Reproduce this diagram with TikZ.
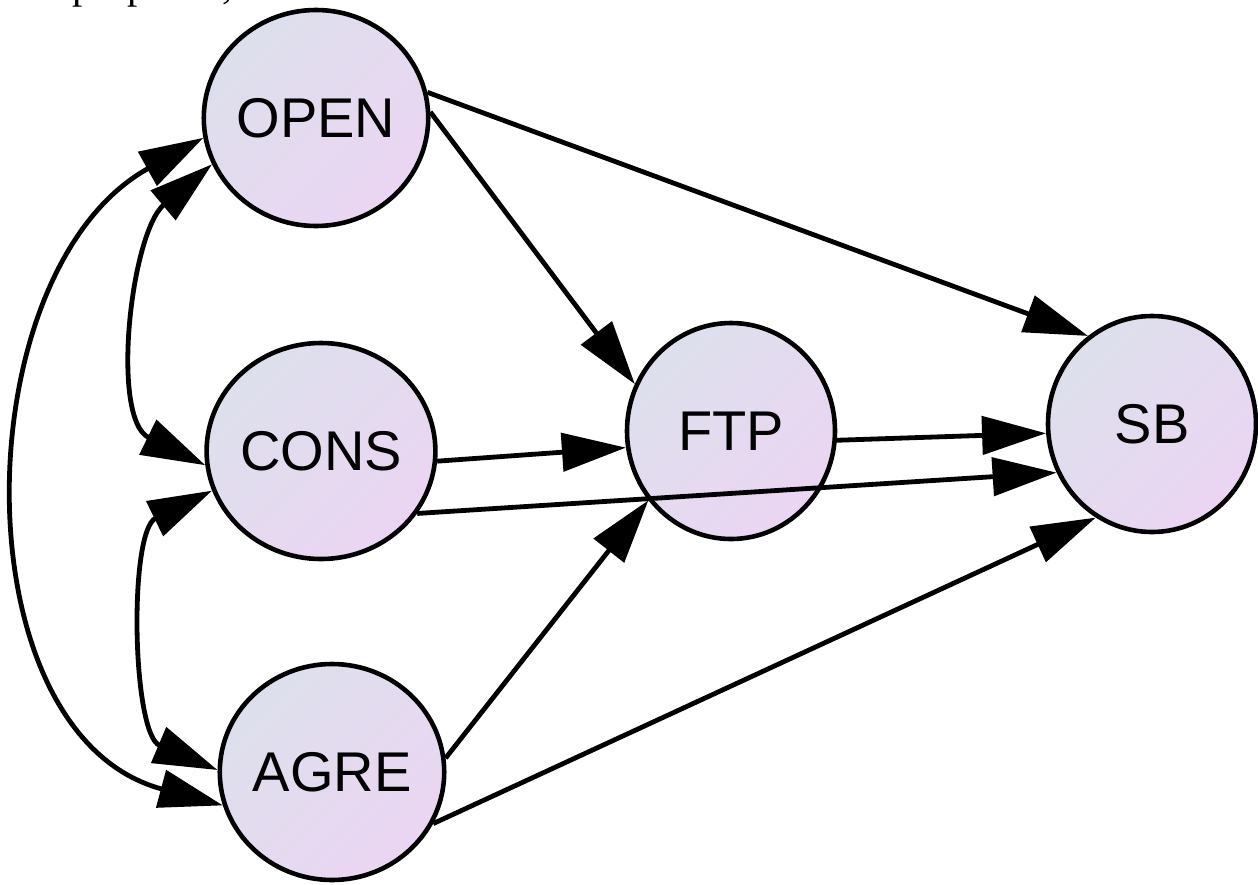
\documentclass[tikz,border=0pt]{standalone}
\usepackage{fontspec}
\setmainfont{Liberation Sans}
\newfontfamily\capfont{Liberation Serif}
\usetikzlibrary{arrows.meta,shapes.geometric}
\definecolor{nodetop}{RGB}{221,224,236}
\definecolor{nodebot}{RGB}{235,213,243}
\begin{document}
\begin{tikzpicture}[x=0.5pt,y=-0.5pt,
  var/.style={ellipse, draw=black, line width=2.3pt,
    minimum width=104pt, minimum height=108pt, inner sep=0pt,
    top color=nodetop, bottom color=nodebot, shading angle=45,
    font=\fontsize{28}{28}\selectfont},
  link/.style={line width=2.4pt, -{Triangle[length=32pt,width=19pt]}},
  both/.style={line width=2.4pt,
    {Triangle[length=32pt,width=19pt]}-{Triangle[length=32pt,width=19pt]}}]
\useasboundingbox (0,0) rectangle (1258,884);
\clip (0,0) rectangle (1258,884);

% text line cut by the top edge
\node[anchor=base west, inner sep=0pt,
  font=\capfont\fontsize{20.5}{24}\selectfont] (note) at (72,-2) {proposed,};

% variables
\node[var] (OPEN) at (316,118) {OPEN};
\node[var] (CONS) at (321,451) {CONS};
\node[var] (AGRE) at (332,772) {AGRE};
\node[var] (FTP)  at (731,431) {FTP};
\node[var] (SB)   at (1152,424) {SB};

% directed paths
\draw[link] (OPEN.13)  -- (SB.126);
\draw[link] (OPEN.3)   -- (FTP.154);
\draw[link] (CONS.-5)  -- (FTP.189);
\draw[link] (CONS.-33) -- (SB.207);
\draw[link] (FTP.-5)   -- (SB.185);
\draw[link] (AGRE.7)   -- (FTP.220);
\draw[link] (AGRE.-27) -- (SB.239);

% correlations
\draw[both] (OPEN.204) to[out=220,in=154,looseness=0.9] (CONS.187);
\draw[both] (CONS.200) to[out=206,in=157,looseness=0.85] (AGRE.179);
\draw[both] (OPEN.190) to[out=209,in=165,looseness=1.05] (AGRE.197);
\end{tikzpicture}
\end{document}
